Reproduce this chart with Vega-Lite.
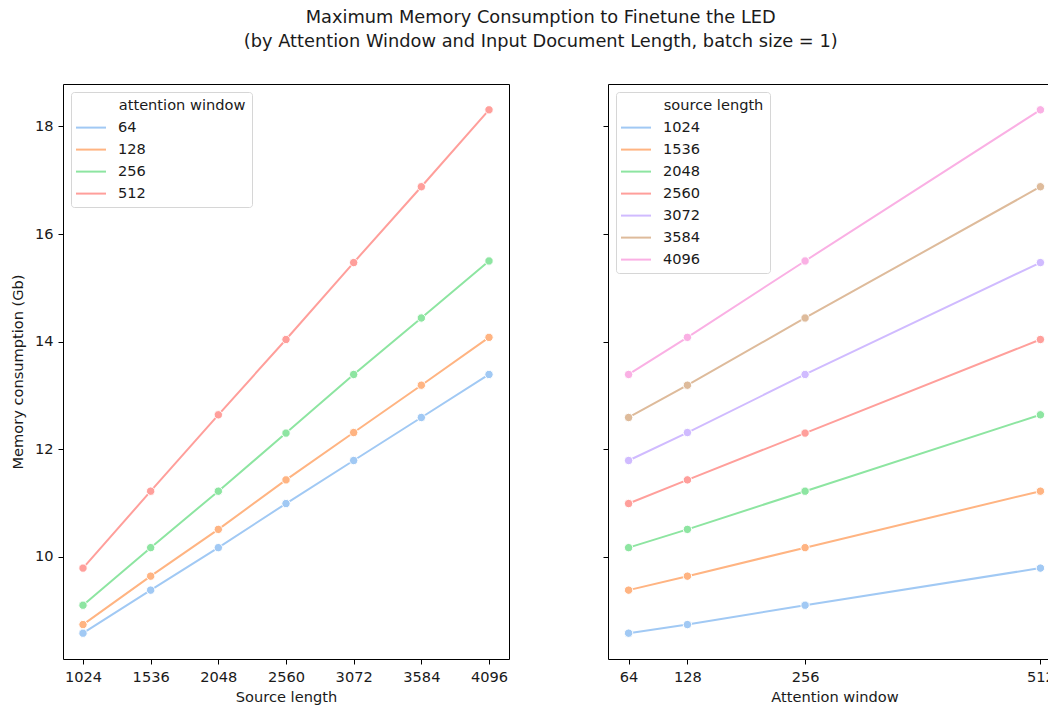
{
  "$schema": "https://vega.github.io/schema/vega-lite/v6.json",
  "padding": {"left": 9, "top": 8, "right": 0, "bottom": 0},
  "config": {
    "font": "DejaVu Sans",
    "view": {"stroke": "#000000", "strokeWidth": 1},
    "axis": {"grid": false, "domain": false, "tickColor": "#000000", "tickSize": 5, "labelColor": "#1a1a1a", "labelFontSize": 14.6, "titleFontSize": 14.6, "titleFontWeight": "normal", "titleColor": "#1a1a1a", "labelPadding": 5, "titlePadding": 6, "labelFont": "DejaVu Sans", "titleFont": "DejaVu Sans"},
    "legend": {"symbolType": "M-1.5,0H1.5", "symbolSize": 400, "symbolOffset": 3, "symbolStrokeWidth": 2, "labelFontSize": 14.6, "titleFontSize": 14.6, "titleFontWeight": "normal", "titleColor": "#1a1a1a", "labelColor": "#1a1a1a", "fillColor": "#ffffff", "strokeColor": "#d6d6d6", "cornerRadius": 3, "padding": 6, "rowPadding": 4, "labelOffset": 16, "titlePadding": 4, "orient": "top-left", "offset": 8, "labelFont": "DejaVu Sans", "titleFont": "DejaVu Sans"}
  },
  "title": {"text": ["Maximum Memory Consumption to Finetune the LED", "(by Attention Window and Input Document Length, batch size = 1)"], "fontSize": 17.8, "fontWeight": "normal", "lineHeight": 24, "color": "#1a1a1a", "offset": 33, "font": "DejaVu Sans", "anchor": "middle", "frame": "bounds", "dx": 5},
  "data": {"values": [
    {"source": 1024, "window": 64, "mem": 8.58},
    {"source": 1536, "window": 64, "mem": 9.38},
    {"source": 2048, "window": 64, "mem": 10.17},
    {"source": 2560, "window": 64, "mem": 10.99},
    {"source": 3072, "window": 64, "mem": 11.79},
    {"source": 3584, "window": 64, "mem": 12.59},
    {"source": 4096, "window": 64, "mem": 13.39},
    {"source": 1024, "window": 128, "mem": 8.74},
    {"source": 1536, "window": 128, "mem": 9.64},
    {"source": 2048, "window": 128, "mem": 10.51},
    {"source": 2560, "window": 128, "mem": 11.43},
    {"source": 3072, "window": 128, "mem": 12.31},
    {"source": 3584, "window": 128, "mem": 13.19},
    {"source": 4096, "window": 128, "mem": 14.08},
    {"source": 1024, "window": 256, "mem": 9.10},
    {"source": 1536, "window": 256, "mem": 10.17},
    {"source": 2048, "window": 256, "mem": 11.22},
    {"source": 2560, "window": 256, "mem": 12.30},
    {"source": 3072, "window": 256, "mem": 13.39},
    {"source": 3584, "window": 256, "mem": 14.44},
    {"source": 4096, "window": 256, "mem": 15.50},
    {"source": 1024, "window": 512, "mem": 9.79},
    {"source": 1536, "window": 512, "mem": 11.22},
    {"source": 2048, "window": 512, "mem": 12.64},
    {"source": 2560, "window": 512, "mem": 14.04},
    {"source": 3072, "window": 512, "mem": 15.47},
    {"source": 3584, "window": 512, "mem": 16.88},
    {"source": 4096, "window": 512, "mem": 18.31}
  ]},
  "spacing": 92,
  "resolve": {"scale": {"color": "independent", "y": "shared"}, "legend": {"color": "independent"}},
  "hconcat": [
    {
      "width": 446,
      "height": 575,
      "encoding": {
        "x": {"field": "source", "type": "quantitative", "scale": {"domain": [872.7, 4247.3], "nice": false, "zero": false}, "axis": {"values": [1024, 1536, 2048, 2560, 3072, 3584, 4096], "format": "d", "title": "Source length", "labelFlush": false}},
        "y": {"field": "mem", "type": "quantitative", "scale": {"domain": [8.10, 18.79], "nice": false, "zero": false}, "axis": {"values": [10, 12, 14, 16, 18], "title": "Memory consumption (Gb)", "format": "d", "titlePadding": 9}},
        "color": {"field": "window", "type": "ordinal", "scale": {"domain": [64, 128, 256, 512], "range": ["#a1c9f4", "#ffb482", "#8de5a1", "#ff9f9b"]}, "legend": {"title": "\u200b\u00a0\u00a0\u00a0\u00a0\u00a0\u00a0\u00a0\u00a0\u00a0attention window"}}
      },
      "layer": [
        {"mark": {"type": "line", "strokeWidth": 2}, "encoding": {"detail": {"field": "window"}}},
        {"mark": {"type": "point", "filled": true, "size": 70, "opacity": 1, "stroke": "#ffffff", "strokeWidth": 1}}
      ]
    },
    {
      "width": 453,
      "height": 575,
      "encoding": {
        "x": {"field": "window", "type": "quantitative", "scale": {"domain": [41.6, 534.4], "nice": false, "zero": false}, "axis": {"values": [64, 128, 256, 512], "format": "d", "title": "Attention window", "labelFlush": false}},
        "y": {"field": "mem", "type": "quantitative", "scale": {"domain": [8.10, 18.79], "nice": false, "zero": false}, "axis": {"values": [10, 12, 14, 16, 18], "labels": false, "title": null}},
        "color": {"field": "source", "type": "ordinal", "scale": {"domain": [1024, 1536, 2048, 2560, 3072, 3584, 4096], "range": ["#a1c9f4", "#ffb482", "#8de5a1", "#ff9f9b", "#d0bbff", "#debb9b", "#fab0e4"]}, "legend": {"title": "\u200b\u00a0\u00a0\u00a0\u00a0\u00a0\u00a0\u00a0\u00a0\u00a0source length"}}
      },
      "layer": [
        {"mark": {"type": "line", "strokeWidth": 2}, "encoding": {"detail": {"field": "source"}}},
        {"mark": {"type": "point", "filled": true, "size": 70, "opacity": 1, "stroke": "#ffffff", "strokeWidth": 1}}
      ]
    }
  ]
}
